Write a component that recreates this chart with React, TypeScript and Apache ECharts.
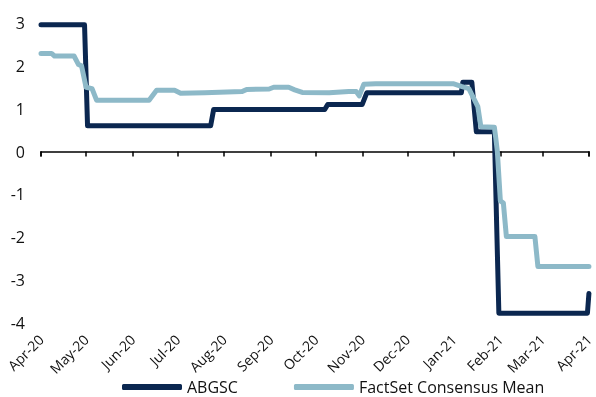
import React, { useEffect, useRef } from "react";
import * as echarts from "echarts";

// ABGSC estimate (change points)
const abgscDates = [
  "2020-04-01", "2020-04-30", "2020-05-02", "2020-07-23", "2020-07-25",
  "2020-10-07", "2020-10-09", "2020-11-01", "2020-11-04", "2021-01-06",
  "2021-01-07", "2021-01-13", "2021-01-16", "2021-01-28", "2021-01-31",
  "2021-03-31", "2021-04-01",
];
const abgscValues = [
  2.96, 2.96, 0.6, 0.6, 0.98,
  0.98, 1.1, 1.1, 1.37, 1.37,
  1.62, 1.62, 0.46, 0.46, -3.77,
  -3.77, -3.31,
];

// FactSet consensus mean
const factsetDates = [
  "2020-04-01", "2020-04-08", "2020-04-10", "2020-04-23", "2020-04-26",
  "2020-04-28", "2020-05-01", "2020-05-05", "2020-05-08", "2020-06-12",
  "2020-06-17", "2020-06-29", "2020-07-03", "2020-07-19", "2020-08-13",
  "2020-08-16", "2020-08-31", "2020-09-03", "2020-09-13", "2020-09-17",
  "2020-09-22", "2020-10-10", "2020-10-23", "2020-10-28", "2020-10-30",
  "2020-11-02", "2020-11-10", "2021-01-01", "2021-01-06", "2021-01-11",
  "2021-01-17", "2021-01-19", "2021-01-28", "2021-01-29", "2021-01-30",
  "2021-02-01", "2021-02-03", "2021-02-05", "2021-02-24", "2021-02-26",
  "2021-04-01",
];
const factsetValues = [
  2.29, 2.29, 2.23, 2.23, 2.03,
  2.0, 1.5, 1.47, 1.2, 1.2,
  1.43, 1.43, 1.36, 1.37, 1.4,
  1.45, 1.46, 1.5, 1.5, 1.44,
  1.38, 1.37, 1.4, 1.4, 1.3,
  1.57, 1.58, 1.58, 1.52, 1.47,
  1.05, 0.58, 0.57, 0.3, 0.0,
  -1.15, -1.2, -1.98, -1.98, -2.68,
  -2.68,
];

const seriesNames = ["ABGSC", "FactSet Consensus Mean"];
const monthNames = ["Jan", "Feb", "Mar", "Apr", "May", "Jun", "Jul", "Aug", "Sep", "Oct", "Nov", "Dec"];
const rangeStart = "2020-04-01";
const rangeEnd = "2021-04-01";
const yTicks = { min: -4, max: 3, step: 1 };

const toTime = (s: string) => {
  const [y, m, d] = s.split("-").map(Number);
  return new Date(y, m - 1, d).getTime();
};
const pairs = (dates: string[], values: number[]) =>
  dates.map((d, i) => [toTime(d), values[i]]);

const monthLabel = (v: number) => {
  const d = new Date(v);
  return monthNames[d.getMonth()] + "-" + String(d.getFullYear()).slice(2);
};

const DARK = "#0b2750";
const LIGHT = "#8db9c8";
const FONT = "'Open Sans', sans-serif";

export default function App() {
  const ref = useRef<HTMLDivElement>(null);

  useEffect(() => {
    if (!ref.current) return;
    const chart = echarts.init(ref.current, null, { renderer: "svg" });
    const xMin = toTime(rangeStart);
    const xMax = toTime(rangeEnd);
    chart.setOption({
      animation: false,
      textStyle: { fontFamily: FONT },
      grid: { left: 41, right: 6, top: 23, bottom: 74 },
      legend: {
        left: 122,
        top: 379,
        icon: "roundRect",
        itemWidth: 60,
        itemHeight: 6,
        itemGap: 56,
        padding: 0,
        textStyle: { fontSize: 16, lineHeight: 16, color: "#111", fontFamily: FONT },
        data: seriesNames,
      },
      xAxis: [
        {
          type: "time",
          min: xMin,
          max: xMax,
          splitNumber: 12,
          axisLine: { show: false, onZero: false },
          axisTick: { show: false },
          splitLine: { show: false },
          axisLabel: {
            rotate: 45,
            fontSize: 14,
            color: "#111",
            margin: 14,
            fontFamily: FONT,
            showMinLabel: true,
            showMaxLabel: true,
            formatter: (v: number) => monthLabel(v),
          },
        },
        {
          type: "time",
          min: xMin,
          max: xMax,
          splitNumber: 12,
          position: "bottom",
          axisLine: { show: true, onZero: true, lineStyle: { color: "#000", width: 1.5 } },
          axisTick: { show: true, length: 5, lineStyle: { color: "#000", width: 1.5 } },
          axisLabel: { show: false },
          splitLine: { show: false },
        },
      ],
      yAxis: {
        type: "value",
        min: yTicks.min,
        max: yTicks.max,
        interval: yTicks.step,
        axisLine: { show: false },
        axisTick: { show: false },
        splitLine: { show: false },
        axisLabel: { fontSize: 16, color: "#111", margin: 16, fontFamily: FONT },
      },
      series: [
        {
          name: seriesNames[0],
          type: "line",
          xAxisIndex: 0,
          data: pairs(abgscDates, abgscValues),
          showSymbol: false,
          symbol: "none",
          lineStyle: { color: DARK, width: 5, cap: "round", join: "round" },
          itemStyle: { color: DARK },
          z: 2,
        },
        {
          name: seriesNames[1],
          type: "line",
          xAxisIndex: 0,
          data: pairs(factsetDates, factsetValues),
          showSymbol: false,
          symbol: "none",
          lineStyle: { color: LIGHT, width: 5, cap: "round", join: "round" },
          itemStyle: { color: LIGHT },
          z: 3,
        },
      ],
    });
    return () => chart.dispose();
  }, []);

  return (
    <div
      ref={ref}
      style={{ position: "fixed", left: 0, top: 0, width: 596, height: 397 }}
    />
  );
}
